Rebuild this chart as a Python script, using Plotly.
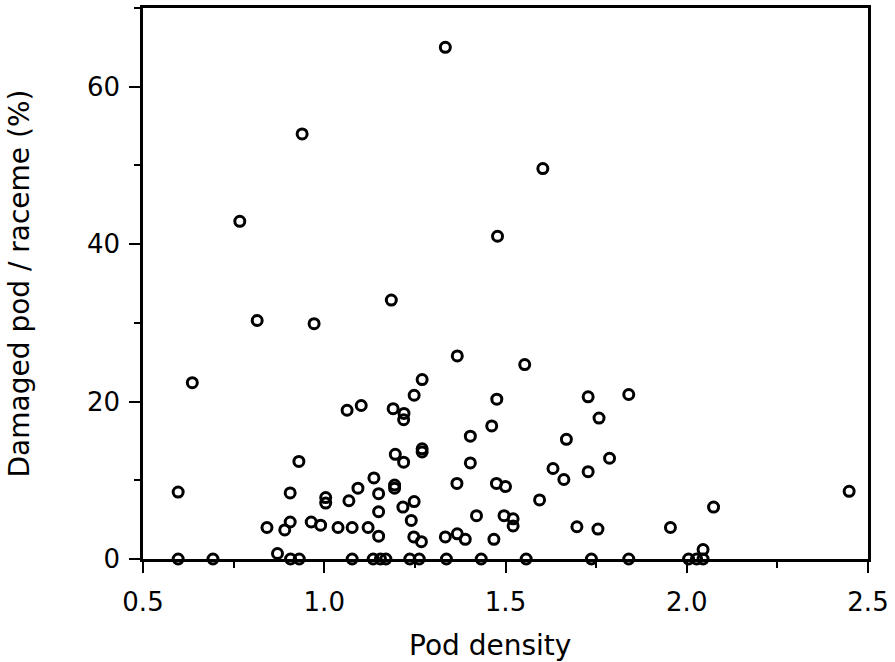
import plotly.graph_objects as go

# pod density vs damaged pods
pod_density = [
    1.334, 0.939, 0.767, 1.478, 1.603, 1.185, 0.815, 0.972, 0.636, 1.367,
    1.553, 1.270, 1.248, 1.063, 1.102, 1.190, 1.220, 1.219, 1.476, 1.728,
    1.840, 1.758, 1.462, 1.403, 1.668, 1.196, 1.219, 1.270, 1.270, 1.403,
    0.930, 1.787, 1.631, 1.728, 1.661, 0.597, 0.906, 1.137, 1.093, 1.150,
    1.194, 1.194, 1.366, 1.475, 1.500, 1.004, 1.004, 1.068, 1.248, 1.217,
    1.150, 1.594, 1.240, 1.420, 1.496, 1.521, 1.521, 0.842, 0.891, 0.906,
    0.964, 0.990, 1.038, 1.077, 1.121, 1.150, 1.247, 1.268, 1.334, 1.367,
    1.389, 1.468, 1.697, 1.755, 1.955, 2.074, 2.448, 2.045, 0.871,
]
damaged_pct = [
    65.0, 54.0, 42.9, 41.0, 49.6, 32.9, 30.3, 29.9, 22.4, 25.8,
    24.7, 22.8, 20.8, 18.9, 19.5, 19.1, 18.5, 17.7, 20.3, 20.6,
    20.9, 17.9, 16.9, 15.6, 15.2, 13.3, 12.3, 14.0, 13.6, 12.2,
    12.4, 12.8, 11.5, 11.1, 10.1, 8.5, 8.4, 10.3, 9.0, 8.3,
    9.4, 9.0, 9.6, 9.6, 9.2, 7.8, 7.1, 7.4, 7.3, 6.6,
    6.0, 7.5, 4.9, 5.5, 5.5, 5.1, 4.2, 4.0, 3.7, 4.7,
    4.7, 4.3, 4.0, 4.0, 4.0, 2.9, 2.8, 2.2, 2.8, 3.2,
    2.5, 2.5, 4.1, 3.8, 4.0, 6.6, 8.6, 1.2, 0.7,
]

# racemes with no damage sit on the x axis
zero_density = [
    0.597, 0.693, 0.907, 0.931, 1.077, 1.135, 1.155, 1.170, 1.236, 1.262,
    1.337, 1.433, 1.557, 1.737, 1.840, 2.005, 2.027, 2.045,
]
zero_pct = [0.0] * len(zero_density)

x_ticks = [0.5, 1.0, 1.5, 2.0, 2.5]
y_ticks = [0, 20, 40, 60]

font_family = "DejaVu Sans, sans-serif"

fig = go.Figure()
fig.add_trace(go.Scatter(
    x=pod_density + zero_density,
    y=damaged_pct + zero_pct,
    mode="markers",
    marker=dict(symbol="circle-open", size=10, color="black",
                line=dict(width=3, color="black")),
    cliponaxis=False,
    showlegend=False,
))

axis_common = dict(
    showline=True, linecolor="black", linewidth=2.5, mirror=True,
    showgrid=False, zeroline=False,
    ticks="outside", ticklen=11, tickwidth=2, tickcolor="black",
    tickfont=dict(family=font_family, size=26, color="black"),
)

fig.update_xaxes(
    range=[0.5, 2.5], tickvals=x_ticks,
    ticktext=[f"{v:.1f}" for v in x_ticks],
    ticklabelstandoff=7,
    minor=dict(dtick=0.25, ticks="outside", ticklen=6, tickwidth=2, tickcolor="black"),
    **axis_common,
)
fig.update_yaxes(
    range=[0, 70], tickvals=y_ticks,
    ticklabelstandoff=4,
    minor=dict(dtick=10, ticks="outside", ticklen=6, tickwidth=2, tickcolor="black"),
    title=dict(text="Damaged pod / raceme (%)",
               font=dict(family=font_family, size=28, color="black"), standoff=50),
    **axis_common,
)

# x title sits a little left of the plot centre in the original
fig.add_annotation(
    text="Pod density", xref="paper", yref="paper", x=0.479, y=-0.123,
    xanchor="center", yanchor="top", showarrow=False,
    font=dict(family=font_family, size=28, color="black"),
)

fig.update_layout(
    width=895, height=662,
    margin=dict(l=143, r=27, t=8, b=103, autoexpand=False),
    plot_bgcolor="white", paper_bgcolor="white",
)

# drop the default page margin so the figure fills the window exactly
fig.write_html("out.html", config={"displayModeBar": False},
               post_script="document.body.style.margin = '0';")
